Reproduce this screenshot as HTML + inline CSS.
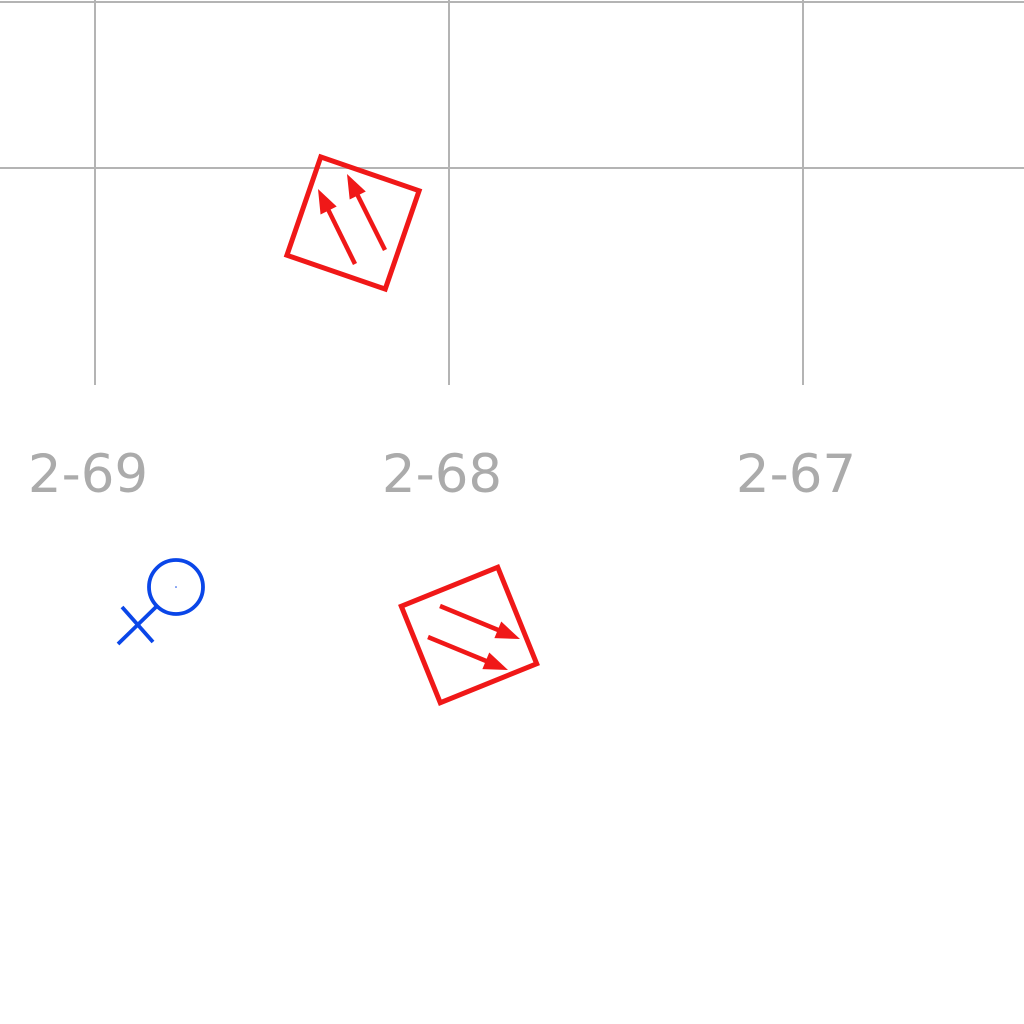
<!DOCTYPE html>
<html><head><meta charset="utf-8"><style>
html,body{margin:0;padding:0;background:#fff;width:1024px;height:1024px;overflow:hidden}
svg{display:block}
text{font-family:"DejaVu Sans","Liberation Sans",sans-serif}
</style></head><body>
<svg id="map" width="1024" height="1024" viewBox="0 0 1024 1024" xmlns="http://www.w3.org/2000/svg">
<g id="grid"></g>
<g id="labels"></g>
<g transform="translate(353,223) rotate(19)" stroke="#f01818" fill="none" stroke-width="5">
  <rect x="-52" y="-52" width="104" height="104"/>
</g>
<g transform="translate(469,635) rotate(-22)" stroke="#f01818" fill="none" stroke-width="5">
  <rect x="-52" y="-52" width="104" height="104"/>
</g>
<g id="arrows"></g>
<g stroke="#0a46e8" stroke-width="3.8" fill="none">
  <circle cx="176" cy="587" r="27"/>
  <line x1="157" y1="606" x2="118" y2="644"/>
  <line x1="122" y1="607" x2="153" y2="642"/>
  <circle cx="176" cy="587" r="0.8" fill="#0a46e8" stroke="none"/>
</g>
</svg>
<script>
const colLabels = ["2-69", "2-68", "2-67"];
const colIndex = [0, 1, 2];
const rowIndex = [0, 1];
const NS = "http://www.w3.org/2000/svg";
const xScale = i => 95 + i * 354;
const yScale = j => 2 + j * 166;
const grid = document.getElementById("grid");
colIndex.forEach(i => {
  const l = document.createElementNS(NS, "line");
  
  
  l.setAttribute("x1", xScale(i)); l.setAttribute("x2", xScale(i));
  l.setAttribute("y1", 0); l.setAttribute("y2", 385);
  l.setAttribute("stroke", "#b4b4b4"); l.setAttribute("stroke-width", "2");
  grid.appendChild(l);
});
rowIndex.forEach(j => {
  const l = document.createElementNS(NS, "line");
  
  
  l.setAttribute("x1", 0); l.setAttribute("x2", 1024);
  l.setAttribute("y1", yScale(j)); l.setAttribute("y2", yScale(j));
  l.setAttribute("stroke", "#b4b4b4"); l.setAttribute("stroke-width", "2");
  grid.appendChild(l);
});
const lg = document.getElementById("labels");
colLabels.forEach((t, i) => {
  const tx = document.createElementNS(NS, "text");
  
  
  tx.setAttribute("x", xScale(i) - 7); tx.setAttribute("y", 492);
  tx.setAttribute("text-anchor", "middle");
  tx.setAttribute("font-size", "53");
  tx.setAttribute("fill", "#ababab");
  tx.textContent = t;
  lg.appendChild(tx);
});
const ag = document.getElementById("arrows");
function arrow(x1, y1, x2, y2) {
  const dx = x2 - x1, dy = y2 - y1, L = Math.hypot(dx, dy);
  const ux = dx / L, uy = dy / L, px = -uy, py = ux;
  const hl = 24, hw = 9;
  const bx = x2 - ux * hl, by = y2 - uy * hl;
  const ln = document.createElementNS(NS, "line");
  
  
  ln.setAttribute("x1", x1); ln.setAttribute("y1", y1);
  ln.setAttribute("x2", bx + ux * 4); ln.setAttribute("y2", by + uy * 4);
  ln.setAttribute("stroke", "#f01818"); ln.setAttribute("stroke-width", "4.5");
  ag.appendChild(ln);
  const pg = document.createElementNS(NS, "polygon");
  
  
  pg.setAttribute("points", `${x2},${y2} ${bx + px * hw},${by + py * hw} ${bx - px * hw},${by - py * hw}`);
  pg.setAttribute("fill", "#f01818");
  ag.appendChild(pg);
}
arrow(355, 264, 318, 189);
arrow(385, 250, 347, 174);
arrow(440, 606, 520, 639);
arrow(428, 637, 508, 670);
</script>
</body></html>
